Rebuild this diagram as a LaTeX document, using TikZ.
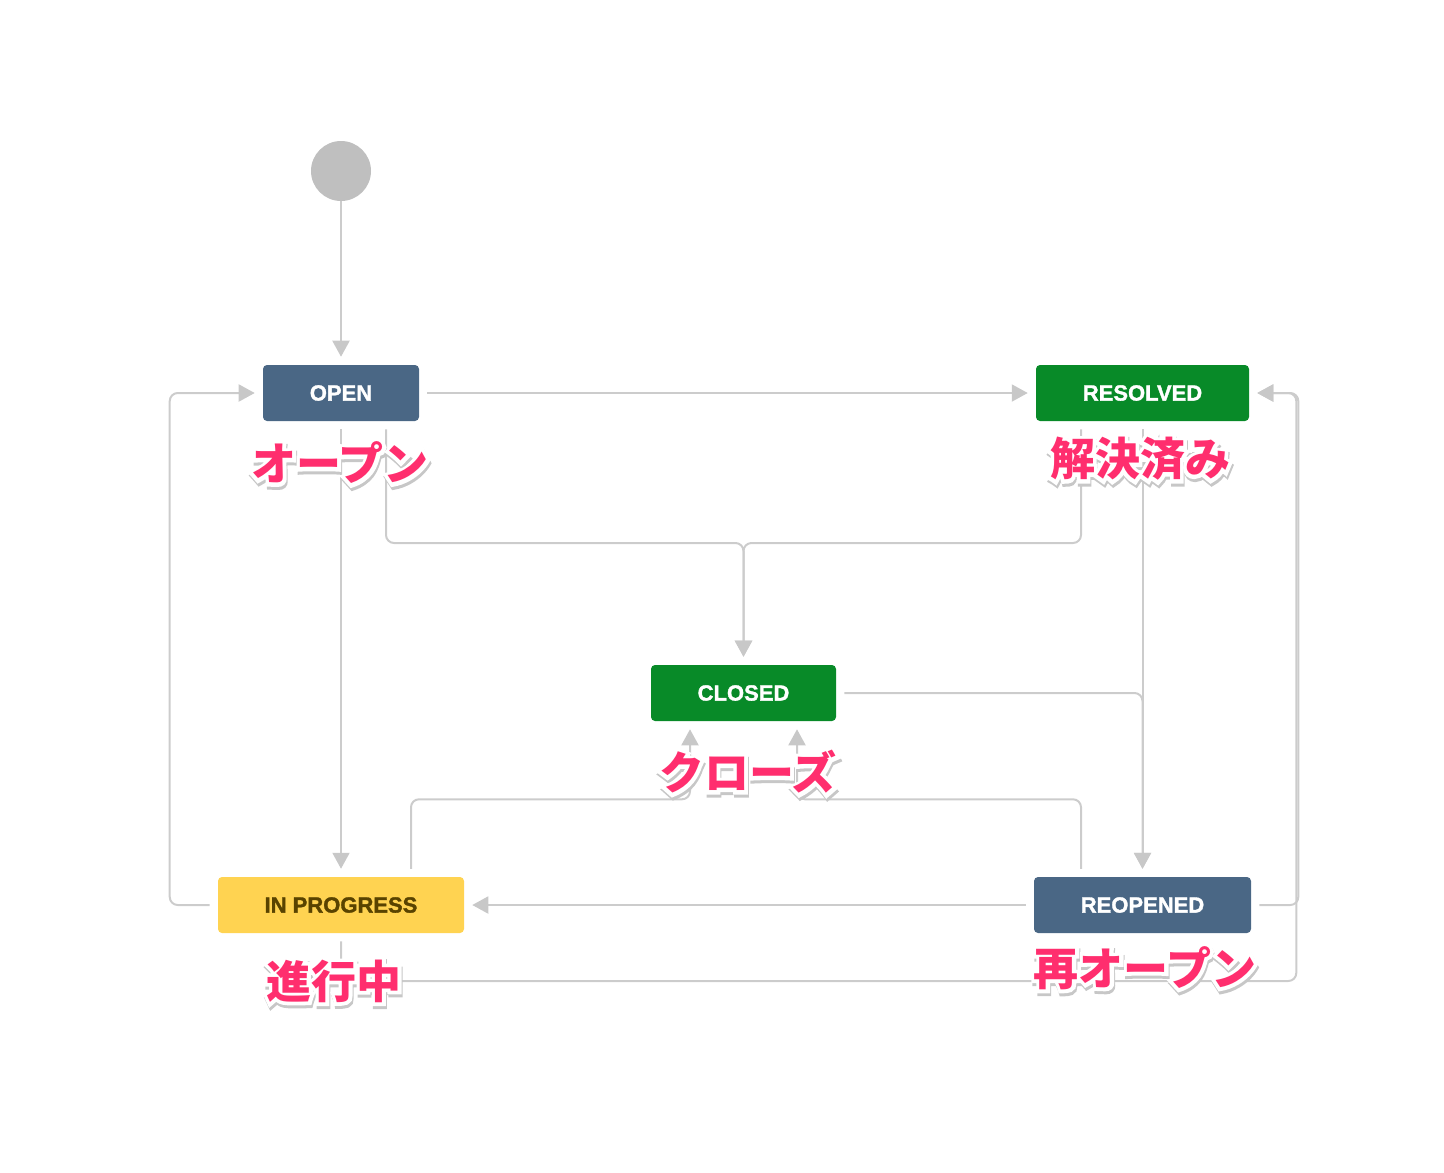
\documentclass[tikz,border=0pt]{standalone}
\usepackage{fontspec}
\newfontfamily\boxfont{Liberation Sans}[BoldFeatures={FakeBold=1.5}]
\newfontfamily\jpfont{Noto Sans CJK JP}
\newfontfamily\jphalo{Noto Sans CJK JP}[BoldFeatures={FakeBold=16}]
\usetikzlibrary{arrows.meta,calc}
\definecolor{jblue}{HTML}{4A6785}
\definecolor{jgreen}{HTML}{088A28}
\definecolor{jyellow}{HTML}{FFD351}
\definecolor{jbrown}{HTML}{594300}
\definecolor{lgray}{HTML}{CCCCCC}
\definecolor{agray}{HTML}{C8C8C8}
\definecolor{sgray}{HTML}{BFBFBF}
\definecolor{jpink}{HTML}{FF2E6E}
\tikzset{
  state/.style={rectangle, rounded corners=3pt, inner sep=0pt, minimum height=42pt,
    font=\boxfont\bfseries\fontsize{16.5}{18}\selectfont, text=white},
  conn/.style={draw=lgray, line width=1.5pt, rounded corners=6pt},
  arr/.style={conn, shorten >=6pt, -{Triangle[width=12.75pt,length=12pt,color=agray]}},
  jl/.style={font=\jpfont\bfseries\fontsize{33.75}{36}\selectfont, inner sep=0pt},
  jh/.style={font=\jphalo\bfseries\fontsize{33.75}{36}\selectfont, inner sep=0pt},
}
\newcommand\jlab[3]{%
  \node[jh,text=black!22] at ($(#2)+(1,3)$) {#3};
  \node[jh,text=white] at (#2) {#3};
  \node[jl,text=jpink] (#1) at (#2) {#3};
}
\begin{document}
\begin{tikzpicture}[x=0.75pt,y=-0.75pt]
\useasboundingbox (0,0) rectangle (1444,1172);
% nodes
\node[circle, fill=sgray, inner sep=0pt, minimum size=45pt] (start) at (341,171) {};
\node[state, fill=jblue, minimum width=117pt] (open) at (341,393) {OPEN};
\node[state, fill=jgreen, minimum width=159.75pt] (resolved) at (1142.5,393) {RESOLVED};
\node[state, fill=jgreen, minimum width=138.75pt] (closed) at (743.5,693) {CLOSED};
\node[state, fill=jyellow, text=jbrown, minimum width=184.5pt] (inprog) at (341,905) {IN PROGRESS};
\node[state, fill=jblue, minimum width=162.75pt] (reopened) at (1142.5,905) {REOPENED};
\coordinate (mergeTop) at (743.5,543);
% connectors
\draw[arr] (start) -- (open);
\draw[arr, shorten <=6pt] (open) -- (resolved);
\draw[arr, shorten <=6pt] (open) -- (inprog);
\draw[arr] ($(open.south)+(45,8)$) |- (mergeTop) -- (closed.north);
\draw[arr] ($(resolved.south)+(-61.5,8)$) |- (mergeTop) -- (closed.north);
\draw[arr, shorten <=6pt] (resolved) -- (reopened);
\draw[arr] ($(closed.east)+(8,0)$) -| (reopened.north);
\draw[arr] ($(inprog.north)+(70,-8)$) |- ($(closed.south)+(-53.5,78)$) -- ($(closed.south)+(-53.5,0)$);
\draw[arr] ($(reopened.north)+(-61.5,-8)$) |- ($(closed.south)+(53.5,78)$) -- ($(closed.south)+(53.5,0)$);
\draw[arr, shorten <=6pt] (reopened) -- (inprog);
\draw[arr] ($(inprog.west)+(-8,0)$) -| ($(open.west)+(-93,0)$) -- (open.west);
\draw[arr] ($(reopened.east)+(8,0)$) -| ($(resolved.east)+(49,0)$) -- (resolved.east);
\draw[arr] ($(inprog.south)+(0,8)$) |- ($(resolved.east)+(47,588)$) -- ($(resolved.east)+(47,0)$) -- (resolved.east);
% labels
\jlab{lopen}{340,463}{オープン}
\jlab{lresolved}{1140,459}{解決済み}
\jlab{lclosed}{748,772}{クローズ}
\jlab{linprog}{334,981}{進行中}
\jlab{lreopened}{1145,968}{再オープン}
\end{tikzpicture}
\end{document}
